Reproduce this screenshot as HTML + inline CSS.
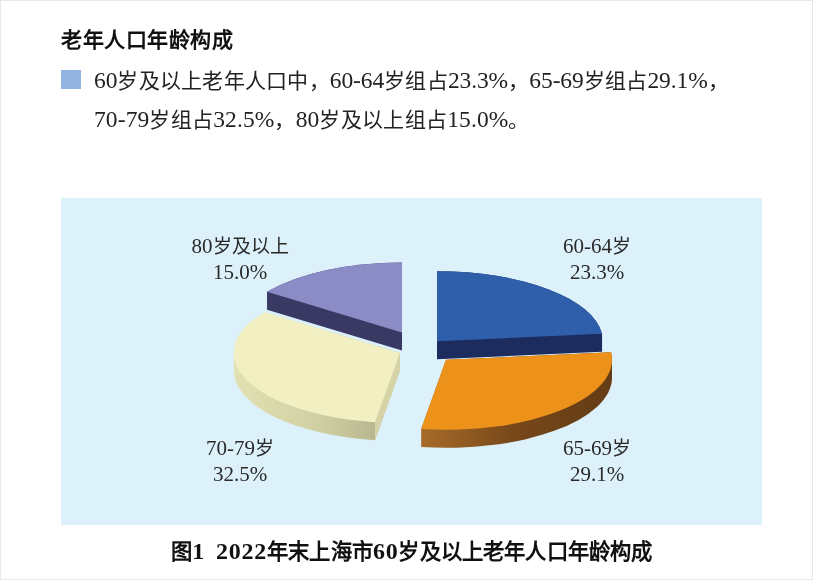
<!DOCTYPE html>
<html lang="zh-CN"><head><meta charset="utf-8"><style>
html,body{margin:0;padding:0;}
body{width:813px;height:580px;position:relative;overflow:hidden;background:#fff;font-family:"Liberation Serif",serif;}
.frame{position:absolute;left:0;top:0;width:811px;height:578px;border:1px solid #e7e7e7;}
.t{position:absolute;white-space:nowrap;line-height:1;will-change:transform;}
.panel{position:absolute;left:61px;top:198px;width:701px;height:326.5px;background:#ddf1fb;}
.sq{position:absolute;left:61px;top:69.5px;width:19.5px;height:19.5px;background:#93b3e0;}
.L{font-size:23.5px;letter-spacing:0.1px} .l1 .L{letter-spacing:-0.1px} .LB{font-size:24px;letter-spacing:0.8px} .LL{font-size:21px;}
.lab{will-change:transform;font-weight:300;position:absolute;white-space:nowrap;line-height:1;font-size:19px;color:#2a2a2a;text-align:center;}
</style></head><body>
<div class="frame"></div>
<div class="t" style="left:61px;top:30px;font-size:21px;letter-spacing:0.57px;font-weight:bold;color:#111">老年人口年龄构成</div>
<div class="sq"></div>
<div class="t l1" style="left:94px;top:69px;font-size:21px;color:#222;font-weight:300;letter-spacing:0.25px"><span class="L">60</span>岁及以上老年人口中，<span class="L">60-64</span>岁组占<span class="L">23.3%</span>，<span class="L">65-69</span>岁组占<span class="L">29.1%</span>，</div>
<div class="t" style="left:94px;top:108px;font-size:21px;color:#222;font-weight:300;letter-spacing:0.3px"><span class="L">70-79</span>岁组占<span class="L">32.5%</span>，<span class="L">80</span>岁及以上组占<span class="L">15.0%</span>。</div>
<div class="panel"></div>
<svg width="813" height="580" style="position:absolute;left:0;top:0">
<defs>
<linearGradient id="gO" gradientUnits="userSpaceOnUse" x1="420" y1="0" x2="612" y2="0">
<stop offset="0" stop-color="#a86c2a"/><stop offset="0.5" stop-color="#774719"/><stop offset="1" stop-color="#643c16"/></linearGradient>
<linearGradient id="gY" gradientUnits="userSpaceOnUse" x1="235" y1="0" x2="376" y2="0">
<stop offset="0" stop-color="#e2e1b3"/><stop offset="0.6" stop-color="#d0cfa3"/><stop offset="1" stop-color="#b7b68f"/></linearGradient>
</defs>
<path d="M402.00,262.40 L402.00,350.40 L267.03,309.65 L267.03,291.65 A166,70 0 0 1 402.00,262.40 Z" fill="#393963"/>
<path d="M402.00,332.40 L267.03,291.65 A166,70 0 0 1 402.00,262.40 Z" fill="#8b8bc5"/>
<path d="M437.00,271.20 L437.00,359.20 L602.06,351.76 L602.06,333.76 A166,70 0 0 0 437.00,271.20 Z" fill="#1c2c5f"/>
<path d="M437.00,341.20 L437.00,271.20 A166,70 0 0 1 602.06,333.76 Z" fill="#2f5faa"/>
<path d="M399.80,353.00 L399.80,371.00 L374.98,440.21 A166,70 0 0 1 233.80,371.00 L233.80,353.00 A166,70 0 0 1 264.83,312.25 Z" fill="url(#gY)"/>
<path d="M399.80,353.00 L398.30,353.00 L374.98,422.21 L374.98,440.21 L399.80,371.00 Z" fill="#d6d4a6"/>
<path d="M399.80,353.00 L374.98,422.21 A166,70 0 0 1 264.83,312.25 Z" fill="#f2f0c2"/>
<path d="M446.00,359.80 L611.06,352.36 A166,70 0 0 1 612.00,359.80 L612.00,377.80 A166,70 0 0 1 421.18,447.01 L421.18,429.01 Z" fill="url(#gO)"/>
<path d="M446.00,359.80 L611.06,352.36 A166,70 0 0 1 421.18,429.01 Z" fill="#ec9119"/>
</svg>
<div class="lab" style="left:547px;top:236px;width:100px"><span class="LL">60-64</span>岁</div>
<div class="lab" style="left:547px;top:262px;width:100px"><span class="LL">23.3%</span></div>
<div class="lab" style="left:547px;top:438px;width:100px"><span class="LL">65-69</span>岁</div>
<div class="lab" style="left:547px;top:464px;width:100px"><span class="LL">29.1%</span></div>
<div class="lab" style="left:190px;top:438px;width:100px"><span class="LL">70-79</span>岁</div>
<div class="lab" style="left:190px;top:464px;width:100px"><span class="LL">32.5%</span></div>
<div class="lab" style="left:190px;top:236px;width:100px"><span class="LL">80</span>岁及以上</div>
<div class="lab" style="left:190px;top:262px;width:100px"><span class="LL">15.0%</span></div>
<div class="t" style="left:170.5px;top:538.5px;font-size:21.3px;letter-spacing:0.15px;font-weight:bold;color:#111">图<span class="LB">1</span>  <span class="LB">2022</span>年末上海市<span class="LB">60</span>岁及以上老年人口年龄构成</div>
</body></html>
